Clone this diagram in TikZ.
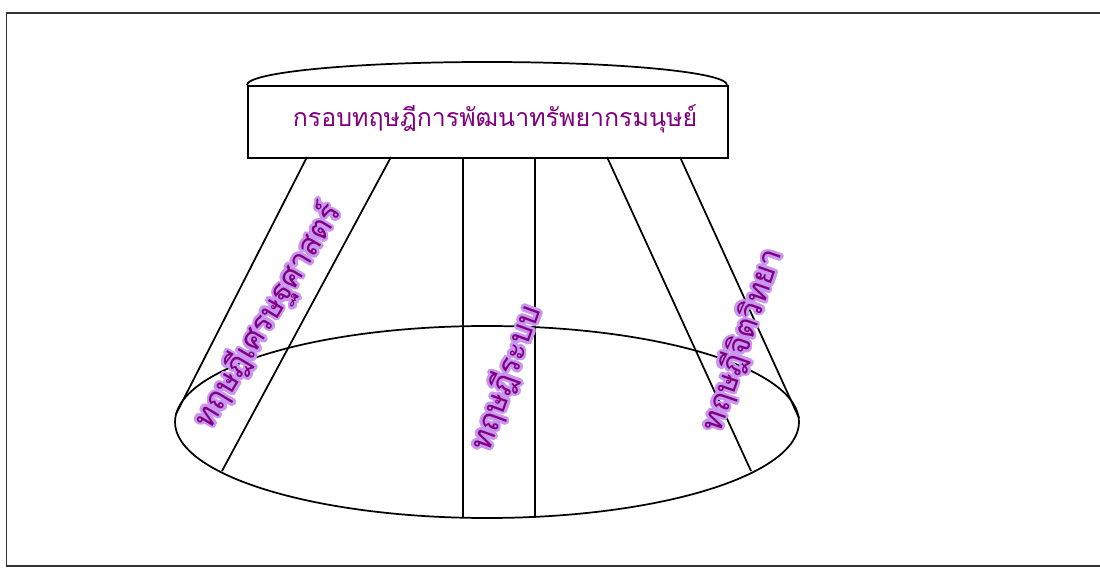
\documentclass[tikz,border=0pt]{standalone}
\usepackage{fontspec}
\usetikzlibrary{shapes.geometric}
\newfontfamily\thaifont[Script=Thai]{Loma}
\definecolor{titlepurple}{RGB}{128,0,128}
\definecolor{halo}{RGB}{200,150,240}
\newcommand\haloshift[3]{\rlap{\kern#1\raisebox{#2}{\color{halo}#3}}}
\newcommand\haloed[1]{%
  \haloshift{2pt}{0pt}{#1}\haloshift{-2pt}{0pt}{#1}%
  \haloshift{0pt}{2pt}{#1}\haloshift{0pt}{-2pt}{#1}%
  \haloshift{1.41pt}{1.41pt}{#1}\haloshift{-1.41pt}{1.41pt}{#1}%
  \haloshift{1.41pt}{-1.41pt}{#1}\haloshift{-1.41pt}{-1.41pt}{#1}%
  \haloshift{1.85pt}{0.77pt}{#1}\haloshift{-1.85pt}{0.77pt}{#1}%
  \haloshift{1.85pt}{-0.77pt}{#1}\haloshift{-1.85pt}{-0.77pt}{#1}%
  \haloshift{0.77pt}{1.85pt}{#1}\haloshift{-0.77pt}{1.85pt}{#1}%
  \haloshift{0.77pt}{-1.85pt}{#1}\haloshift{-0.77pt}{-1.85pt}{#1}%
  \textcolor{titlepurple}{#1}}
\tikzset{
  edge/.style={draw=black, line width=1.3pt},
  thin edge/.style={draw=black, line width=0.9pt},
  label text/.style={font=\thaifont\fontsize{23}{26}\selectfont, inner sep=0pt},
}
\begin{document}
\begin{tikzpicture}[x=0.75pt,y=-0.75pt]
\useasboundingbox (0,0) rectangle (1100,573);
% frame
\draw[line width=0.8pt, draw=black!80] (6.5,13) rectangle (1110,566);
% top cap
\draw[edge] (247,85) arc[start angle=180, end angle=360, x radius=240, y radius=23];
% box
\node[draw, line width=1.3pt, minimum width=480*0.75pt, minimum height=72*0.75pt, anchor=north west, inner sep=0pt] (box) at (247,85) {};
\node[font=\thaifont\fontsize{18.7}{22}\selectfont, text=titlepurple, inner sep=0pt] (title) at (495,119) {กรอบทฤษฎีการพัฒนาทรัพยากรมนุษย์};
% big ellipse
\node[draw, ellipse, line width=1.3pt, minimum width=624*0.75pt, minimum height=192*0.75pt, inner sep=0pt] (base) at (487,422) {};
% top points on box bottom
\coordinate (t1) at (307,157);
\coordinate (t2) at (391,157);
\coordinate (t3) at (463,157);
\coordinate (t4) at (535,157);
\coordinate (t5) at (607,157);
\coordinate (t6) at (680,157);
% bottom points
\coordinate (b1) at (176,414);
\coordinate (b2) at (222,471);
\coordinate (b3) at (463,518);
\coordinate (b4) at (535,518);
\coordinate (b5) at (751,471);
\coordinate (b6) at (799,418);
\draw[edge] (t1) -- (b1);
\draw[edge] (t2) -- (b2);
\draw[thin edge] (t3) -- (b3);
\draw[edge] (t4) -- (b4);
\draw[edge] (t5) -- (b5);
\draw[edge] (t6) -- (b6);
% labels
\node[label text, rotate=59] (econ) at (268,316) {\haloed{ทฤษฎีเศรษฐศาสตร์}};
\node[label text, rotate=70] (sys) at (506,378) {\haloed{ทฤษฎีระบบ}};
\node[label text, rotate=71] (psy) at (742,340) {\haloed{ทฤษฎีจิตวิทยา}};
\end{tikzpicture}
\end{document}
